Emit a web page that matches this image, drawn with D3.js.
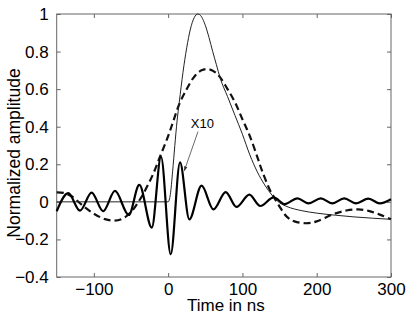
<!DOCTYPE html>
<html>
<head>
<meta charset="utf-8">
<script src="https://cdn.jsdelivr.net/npm/d3@7/dist/d3.min.js"></script>
<style>
  body { margin: 0; background: #fff; }
  text { font-family: "Liberation Sans", Arial, Helvetica, sans-serif; fill: #000; }
</style>
</head>
<body>
<div id="container"></div>
<script>
// ******* Data *******
// thin solid pulse
var pulseT = [-150, 0, 3, 6, 9, 12, 15, 20, 25, 30, 35, 40, 45, 50, 55, 60, 65, 70, 80, 90, 100, 110, 120, 130, 140, 150, 160, 180, 200, 225, 250, 275, 300];
var pulseV = [0, 0, 0.04, 0.16, 0.3, 0.43, 0.53, 0.69, 0.82, 0.92, 0.98, 1.0, 0.985, 0.94, 0.875, 0.8, 0.73, 0.66, 0.56, 0.46, 0.36, 0.25, 0.16, 0.09, 0.035, -0.005, -0.025, -0.047, -0.06, -0.071, -0.08, -0.087, -0.093];

// thick dashed curve
var dashT = [-150, -140, -130, -115, -100, -85, -72, -60, -49, -40, -33, -20, -10, 0, 7, 15, 25, 35, 45, 55, 65, 70, 80, 90, 100, 110, 120, 126, 137, 142, 150, 160, 170, 186, 200, 222, 240, 256, 270, 285, 300];
var dashV = [0.05, 0.047, 0.03, -0.02, -0.063, -0.092, -0.1, -0.087, -0.05, 0.0, 0.046, 0.15, 0.25, 0.35, 0.43, 0.52, 0.6, 0.665, 0.7, 0.706, 0.685, 0.663, 0.6, 0.53, 0.44, 0.35, 0.24, 0.17, 0.063, 0.028, -0.025, -0.08, -0.104, -0.114, -0.104, -0.066, -0.046, -0.04, -0.048, -0.068, -0.093];

// thick oscillation (x10), peaks and troughs
var oscT = [-150, -134.5, -118.6, -103, -87.5, -71.5, -53, -38.8, -22, -9.6, 3.5, 16, 28.5, 45, 61, 77.5, 92, 109.3, 124, 142, 157, 174, 189, 205.5, 221, 237, 253, 269.5, 285, 300];
var oscV = [-0.05, 0.046, -0.047, 0.049, -0.05, 0.058, -0.07, 0.09, -0.137, 0.24, -0.279, 0.21, -0.093, 0.086, -0.04, 0.052, -0.027, 0.038, -0.022, 0.024, -0.012, 0.019, -0.008, 0.019, -0.008, 0.019, -0.008, 0.017, -0.008, 0.014];

var xTicks = [-100, 0, 100, 200, 300];
var yTicks = [-0.4, -0.2, 0, 0.2, 0.4, 0.6, 0.8, 1];

var width = 409, height = 314;
var plotL = 56.7, plotR = 391, plotT = 14, plotB = 277;

var svg = d3.select("#container").append("svg")
  .attr("width", width)
  .attr("height", height);

var x = d3.scaleLinear().domain([-150, 300]).range([plotL, plotR]);
var y = d3.scaleLinear().domain([-0.4, 1]).range([plotB, plotT]);

function fmt(d) { return d3.format("")(d).replace("-", "\u2212"); }

// ******* Axes (ticks inward, boxed) *******
var tickLen = 4;
svg.append("g")
  .attr("transform", "translate(0," + plotB + ")")
  .call(d3.axisBottom(x).tickValues(xTicks).tickSizeInner(-tickLen).tickSizeOuter(0).tickPadding(6).tickFormat(fmt))
  .call(function(g) { g.select(".domain").remove(); });
svg.append("g")
  .attr("transform", "translate(0," + plotT + ")")
  .call(d3.axisTop(x).tickValues(xTicks).tickSizeInner(-tickLen).tickSizeOuter(0).tickFormat(""))
  .call(function(g) { g.select(".domain").remove(); });
svg.append("g")
  .attr("transform", "translate(" + plotL + ",0)")
  .call(d3.axisLeft(y).tickValues(yTicks).tickSizeInner(-tickLen).tickSizeOuter(0).tickPadding(8).tickFormat(fmt))
  .call(function(g) { g.select(".domain").remove(); });
svg.append("g")
  .attr("transform", "translate(" + plotR + ",0)")
  .call(d3.axisRight(y).tickValues(yTicks).tickSizeInner(-tickLen).tickSizeOuter(0).tickFormat(""))
  .call(function(g) { g.select(".domain").remove(); });

svg.selectAll(".tick line").attr("stroke", "#666");
svg.selectAll(".tick text").style("font-size", "17px").attr("fill", "#000");

svg.append("rect")
  .attr("x", plotL).attr("y", plotT)
  .attr("width", plotR - plotL).attr("height", plotB - plotT)
  .attr("fill", "none").attr("stroke", "#666").attr("stroke-width", 1);

// ******* Curves *******
function pts(ts, vs) { return ts.map(function(t, i) { return [t, vs[i]]; }); }
var line = d3.line()
  .x(function(d) { return x(d[0]); })
  .y(function(d) { return y(d[1]); });

var plot = svg.append("g");

plot.append("path")
  .datum(pts(dashT, dashV))
  .attr("d", line.curve(d3.curveCatmullRom.alpha(0.5)))
  .attr("fill", "none").attr("stroke", "#111").attr("stroke-width", 2.2)
  .attr("stroke-dasharray", "7,4");

plot.append("path")
  .datum(pts(pulseT, pulseV))
  .attr("d", line.curve(d3.curveMonotoneX))
  .attr("fill", "none").attr("stroke", "#222").attr("stroke-width", 1);

plot.append("path")
  .datum(pts(oscT, oscV))
  .attr("d", line.curve(d3.curveMonotoneX))
  .attr("fill", "none").attr("stroke", "#000").attr("stroke-width", 2.2);

// ******* Annotation *******
svg.append("defs").append("marker")
  .attr("id", "head")
  .attr("viewBox", "0 0 10 10")
  .attr("refX", 9).attr("refY", 5)
  .attr("markerWidth", 6).attr("markerHeight", 6)
  .attr("orient", "auto")
  .append("path").attr("d", "M0,1.5L10,5L0,8.5Z").attr("fill", "#333");

svg.append("line")
  .attr("x1", x(40.2)).attr("y1", y(0.374))
  .attr("x2", x(21.8)).attr("y2", y(0.166))
  .attr("stroke", "#444").attr("stroke-width", 0.8)
  .attr("marker-end", "url(#head)");

svg.append("text")
  .attr("x", x(46)).attr("y", y(0.395))
  .attr("text-anchor", "middle")
  .style("font-size", "13px")
  .text("X10");

// ******* Axis titles *******
svg.append("text")
  .attr("x", (plotL + plotR) / 2 + 2)
  .attr("y", 311)
  .attr("text-anchor", "middle")
  .style("font-size", "17px")
  .text("Time in ns");

svg.append("text")
  .attr("transform", "translate(19.5," + 153 + ")rotate(-90)")
  .attr("text-anchor", "middle")
  .style("font-size", "17.5px")
  .text("Normalized amplitude");
</script>
</body>
</html>
